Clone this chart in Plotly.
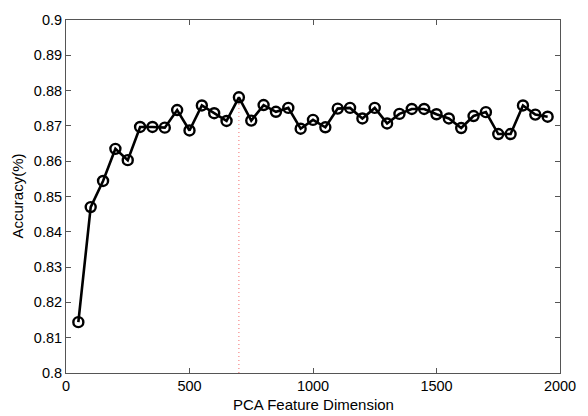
import plotly.graph_objects as go

dims = list(range(50, 2000, 50))
accuracy = [0.8144, 0.8470, 0.8544, 0.8635, 0.8603, 0.8697, 0.8697, 0.8695, 0.8745,
            0.8687, 0.8758, 0.8736, 0.8714, 0.8781, 0.8715, 0.8759, 0.8740, 0.8751,
            0.8692, 0.8717, 0.8696, 0.8749, 0.8751, 0.8721, 0.8751, 0.8707, 0.8734,
            0.8748, 0.8748, 0.8733, 0.8721, 0.8694, 0.8728, 0.8739, 0.8677, 0.8677,
            0.8758, 0.8732, 0.8726]
best_dim = 700
best_acc = accuracy[dims.index(best_dim)]
x_ticks = [0, 500, 1000, 1500, 2000]
y_ticks = [0.8, 0.81, 0.82, 0.83, 0.84, 0.85, 0.86, 0.87, 0.88, 0.89, 0.9]
y_tick_text = ["0.8", "0.81", "0.82", "0.83", "0.84", "0.85", "0.86", "0.87", "0.88", "0.89", "0.9"]

FONT = "Liberation Sans, Arial, sans-serif"

fig = go.Figure()
fig.add_trace(go.Scatter(
    x=[best_dim, best_dim], y=[0.8, best_acc], mode="lines",
    line=dict(color="rgba(240,60,60,0.75)", width=1, dash="1px,3px"), showlegend=False))
fig.add_trace(go.Scatter(
    x=dims, y=accuracy, mode="lines+markers",
    line=dict(color="black", width=2.6),
    marker=dict(symbol="circle-open", size=10, color="black", line=dict(width=2.4)),
    showlegend=False))

axis_common = dict(showline=True, linecolor="#555", linewidth=1, mirror="ticks",
                   ticks="inside", ticklen=5, tickcolor="#555", showgrid=False,
                   zeroline=False,
                   tickfont=dict(family=FONT, size=14.5, color="black"))
fig.update_xaxes(range=[0, 2000], tickvals=x_ticks, ticklabelstandoff=0, **axis_common)
fig.update_yaxes(range=[0.8, 0.9], tickvals=y_ticks, ticktext=y_tick_text, **axis_common)
fig.update_layout(
    width=588, height=416, margin=dict(l=66, r=20, t=13, b=43),
    plot_bgcolor="white", paper_bgcolor="white",
    annotations=[
        dict(text="PCA Feature Dimension", xref="paper", yref="paper", x=0.5, y=0,
             xanchor="center", yanchor="middle", yshift=-31, showarrow=False,
             font=dict(family=FONT, size=15, color="black")),
        dict(text="Accuracy(%)", xref="paper", yref="paper", x=0, y=0.5,
             xanchor="center", yanchor="middle", xshift=-49, textangle=-90, showarrow=False,
             font=dict(family=FONT, size=15, color="black")),
    ])
fig.write_html("out.html")
